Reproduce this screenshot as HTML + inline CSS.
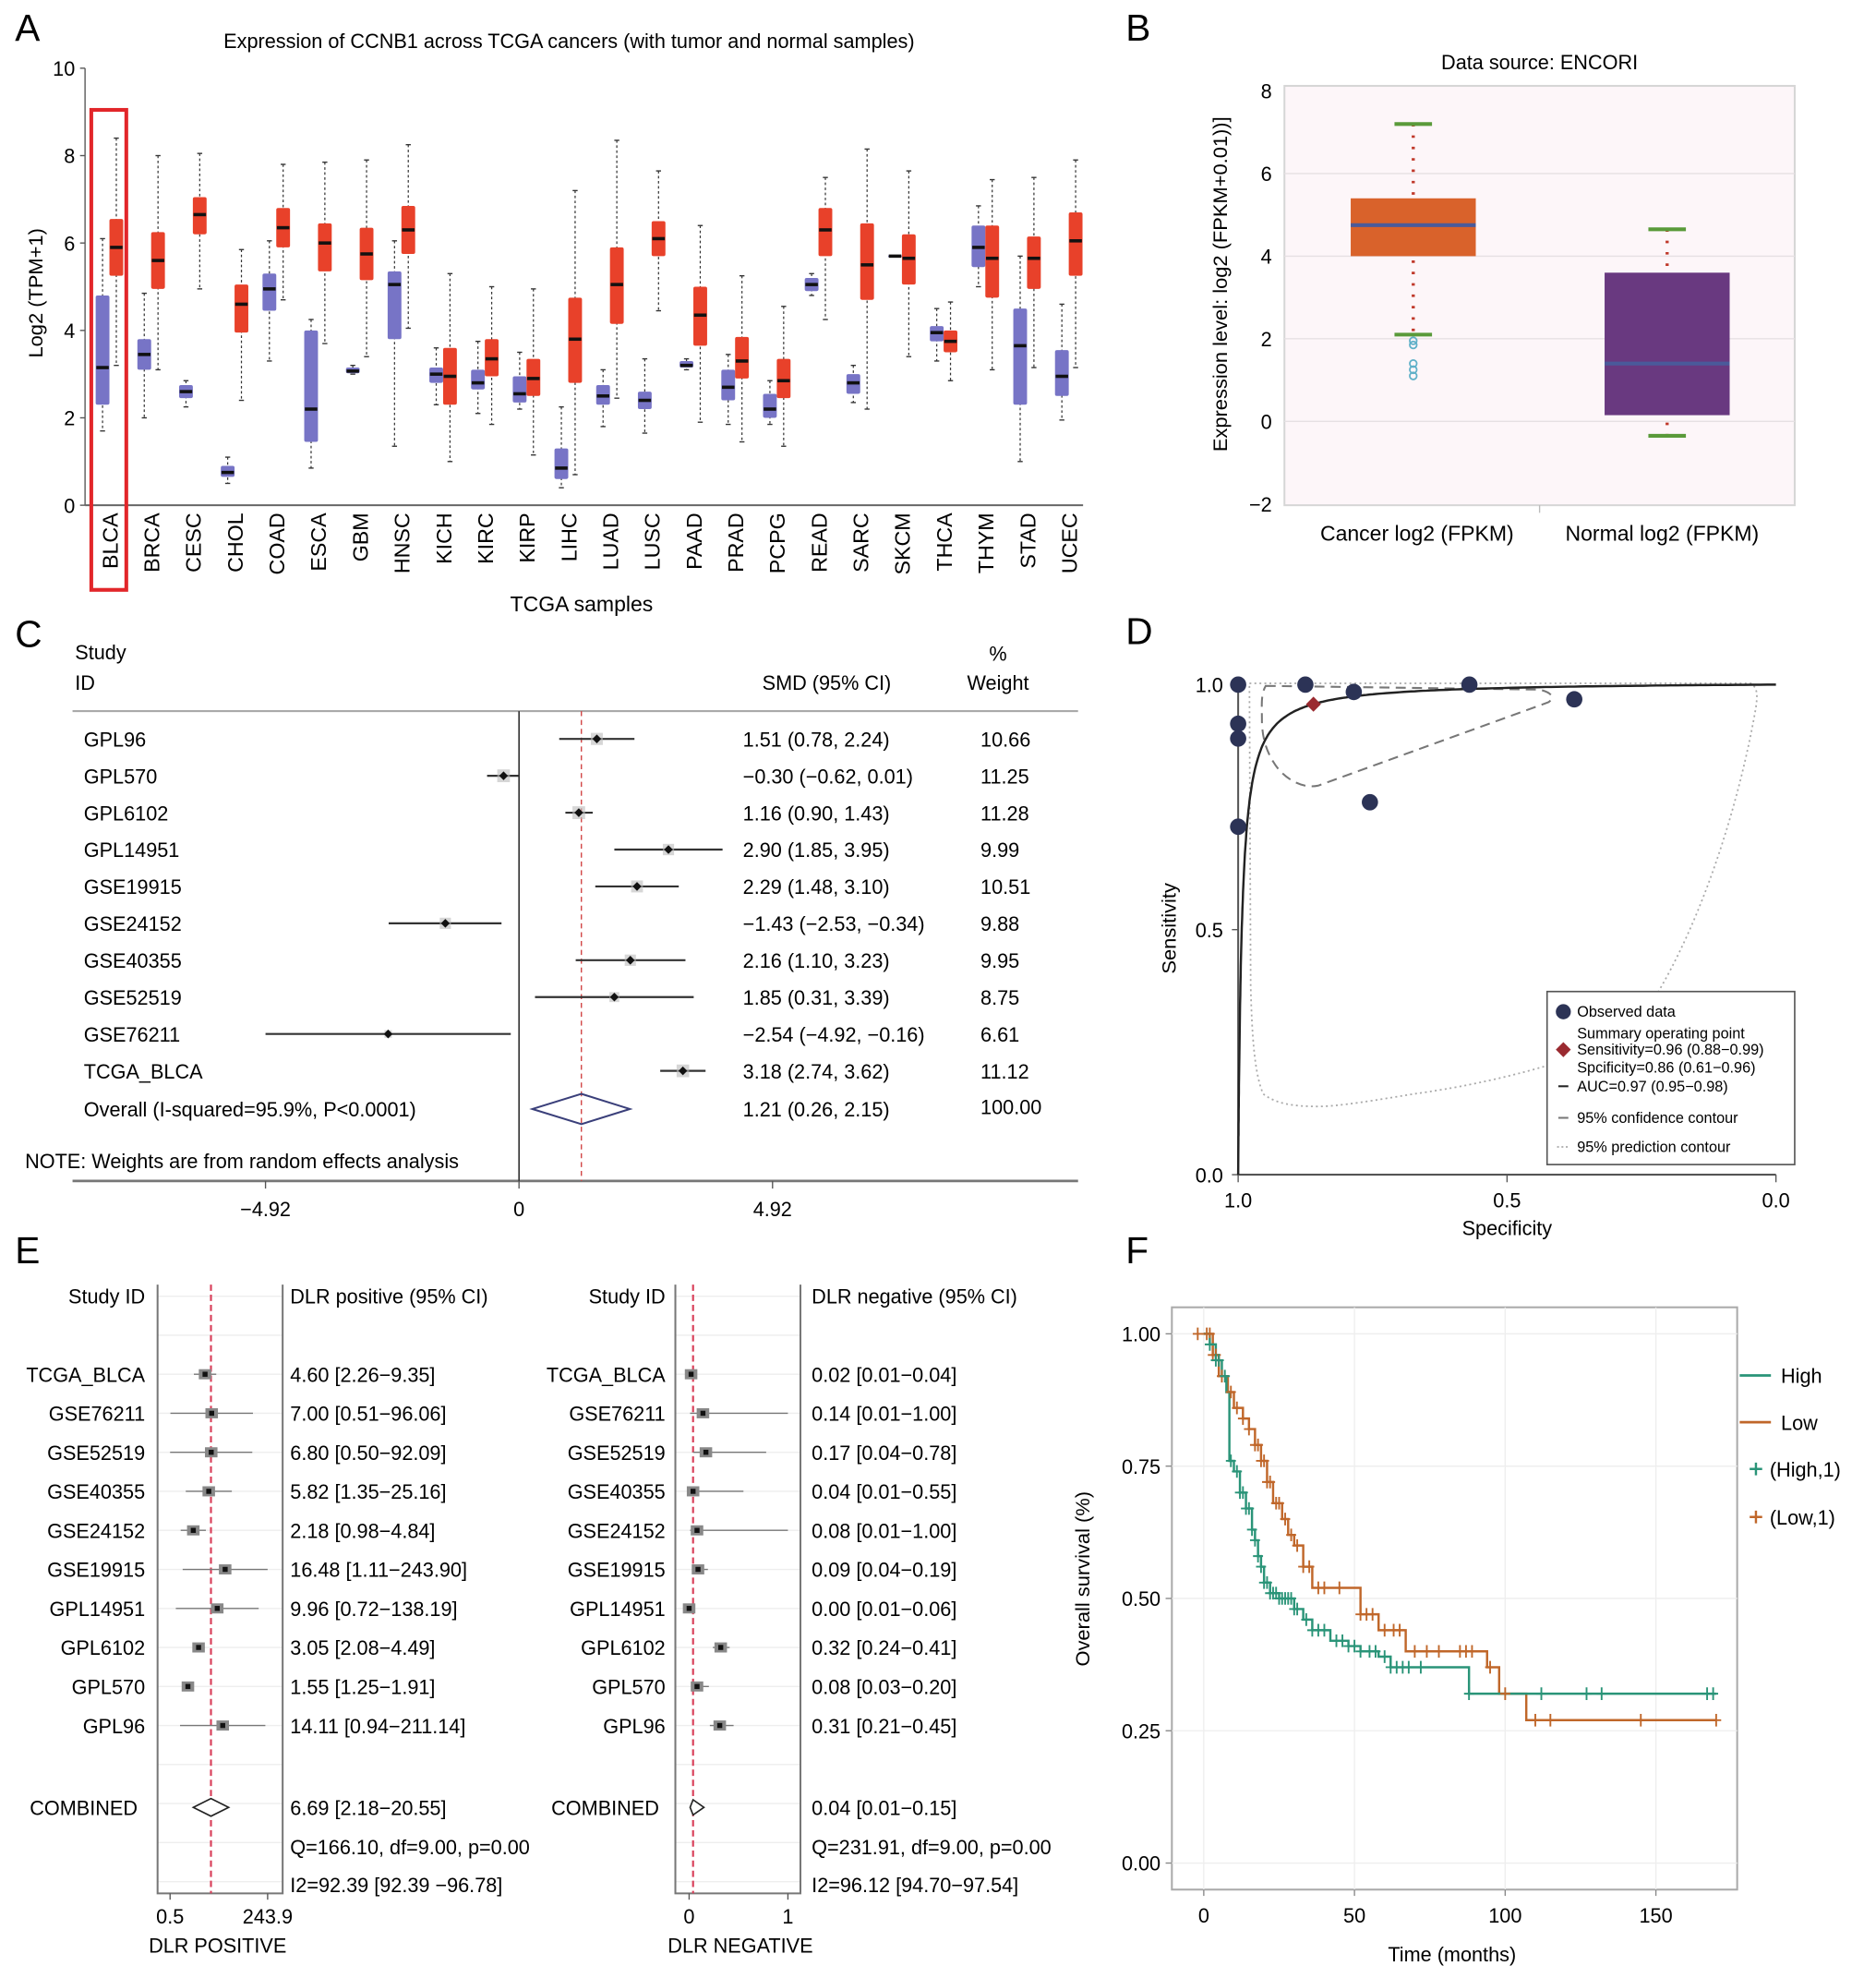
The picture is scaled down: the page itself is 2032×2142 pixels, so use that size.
<!DOCTYPE html>
<html><head><meta charset="utf-8"><style>
html,body{margin:0;padding:0;background:#fff;}
svg{display:block;font-family:"Liberation Sans",Arial,sans-serif;}
</style></head><body>
<svg id="fig" width="2032" height="2142" viewBox="0 0 1500 1566" preserveAspectRatio="none" xmlns="http://www.w3.org/2000/svg">
<rect x="0" y="0" width="1500" height="1566" fill="#fff"/>
<text x="12" y="32" font-size="30">A</text>
<text x="900" y="32" font-size="30">B</text>
<text x="12" y="512" font-size="30">C</text>
<text x="900" y="510" font-size="30">D</text>
<text x="12" y="1000" font-size="30">E</text>
<text x="900" y="1000" font-size="30">F</text>

<text x="455" y="38" font-size="16" text-anchor="middle">Expression of CCNB1 across TCGA cancers (with tumor and normal samples)</text>
<text transform="translate(34,232) rotate(-90)" font-size="16" text-anchor="middle">Log2 (TPM+1)</text>
<text x="465" y="484" font-size="17" text-anchor="middle">TCGA samples</text>
<g id="gA"></g>

<text x="1231" y="55" font-size="16" text-anchor="middle">Data source: ENCORI</text>
<text transform="translate(981,225) rotate(-90)" font-size="16" text-anchor="middle">Expression level: log2 (FPKM+0.01))]</text>
<text x="1133" y="428" font-size="17" text-anchor="middle">Cancer log2 (FPKM)</text>
<text x="1329" y="428" font-size="17" text-anchor="middle">Normal log2 (FPKM)</text>
<g id="gB"></g>

<text x="60" y="522" font-size="16">Study</text>
<text x="60" y="546" font-size="16">ID</text>
<text x="661" y="546" font-size="16" text-anchor="middle">SMD (95% CI)</text>
<text x="798" y="523" font-size="16" text-anchor="middle">%</text>
<text x="798" y="546" font-size="16" text-anchor="middle">Weight</text>
<text x="20" y="925" font-size="16">NOTE: Weights are from random effects analysis</text>
<g id="gC"></g>

<text transform="translate(940,735) rotate(-90)" font-size="16" text-anchor="middle">Sensitivity</text>
<text x="1205" y="978" font-size="16" text-anchor="middle">Specificity</text>
<g id="gD"></g>

<text x="116" y="1032" font-size="16" text-anchor="end">Study ID</text>
<text x="232" y="1032" font-size="16">DLR positive (95% CI)</text>
<text x="532" y="1032" font-size="16" text-anchor="end">Study ID</text>
<text x="649" y="1032" font-size="16">DLR negative (95% CI)</text>
<text x="232" y="1468" font-size="16">Q=166.10, df=9.00, p=0.00</text>
<text x="232" y="1498" font-size="16">I2=92.39 [92.39 −96.78]</text>
<text x="649" y="1468" font-size="16">Q=231.91, df=9.00, p=0.00</text>
<text x="649" y="1498" font-size="16">I2=96.12 [94.70−97.54]</text>
<text x="174" y="1546" font-size="16" text-anchor="middle">DLR POSITIVE</text>
<text x="592" y="1546" font-size="16" text-anchor="middle">DLR NEGATIVE</text>
<g id="gE"></g>

<text transform="translate(871,1250) rotate(-90)" font-size="16" text-anchor="middle">Overall survival (%)</text>
<text x="1161" y="1553" font-size="16" text-anchor="middle">Time (months)</text>
<text x="1361" y="1084" font-size="16" text-anchor="end">Log-rank p=0.031</text>
<text x="1361" y="1106" font-size="16" text-anchor="end">Low Num=203</text>
<text x="1361" y="1128" font-size="16" text-anchor="end">High Num=203</text>
<text x="1361" y="1152" font-size="16" text-anchor="end">Hazard ratio=1.39</text>
<g id="gF"></g>
</svg>
<script>
const aCats=["BLCA","BRCA","CESC","CHOL","COAD","ESCA","GBM","HNSC","KICH","KIRC","KIRP","LIHC","LUAD","LUSC","PAAD","PRAD","PCPG","READ","SARC","SKCM","THCA","THYM","STAD","UCEC"];
const aNormal=[[1.7,2.3,3.15,4.8,6.1],[2.0,3.1,3.45,3.8,4.85],[2.25,2.45,2.6,2.75,2.85],[0.5,0.65,0.75,0.9,1.1],[3.3,4.45,4.95,5.3,6.05],[0.85,1.45,2.2,4.0,4.25],[3.0,3.02,3.07,3.15,3.2],[1.35,3.8,5.05,5.35,6.05],[2.3,2.8,3.0,3.15,3.6],[2.1,2.65,2.8,3.1,3.75],[2.2,2.35,2.55,2.95,3.5],[0.4,0.6,0.85,1.3,2.25],[1.8,2.3,2.5,2.75,3.1],[1.65,2.2,2.4,2.6,3.35],[3.1,3.15,3.2,3.3,3.35],[1.85,2.4,2.7,3.1,3.45],[1.85,2.0,2.2,2.55,2.85],[4.8,4.9,5.05,5.2,5.3],[2.35,2.55,2.8,3.0,3.2],[5.7,5.68,5.7,5.72,5.7],[3.3,3.75,3.95,4.1,4.5],[5.0,5.45,5.9,6.4,6.85],[1.0,2.3,3.65,4.5,5.7],[1.95,2.5,2.95,3.55,4.6]];
const aTumor=[[3.2,5.25,5.9,6.55,8.4],[3.1,4.95,5.6,6.25,8.0],[4.95,6.2,6.65,7.05,8.05],[2.4,3.95,4.6,5.05,5.85],[4.7,5.9,6.35,6.8,7.8],[3.7,5.35,6.0,6.45,7.85],[3.4,5.15,5.75,6.35,7.9],[4.05,5.75,6.3,6.85,8.25],[1.0,2.3,2.95,3.6,5.3],[1.85,2.95,3.35,3.8,5.0],[1.15,2.5,2.9,3.35,4.95],[0.7,2.8,3.8,4.75,7.2],[2.45,4.15,5.05,5.9,8.35],[4.45,5.7,6.1,6.5,7.65],[1.9,3.65,4.35,5.0,6.4],[1.45,2.9,3.3,3.85,5.25],[1.35,2.45,2.85,3.35,4.55],[4.25,5.7,6.3,6.8,7.5],[2.2,4.7,5.5,6.45,8.15],[3.4,5.05,5.65,6.2,7.65],[2.85,3.5,3.75,4.0,4.65],[3.1,4.75,5.65,6.4,7.45],[3.15,4.95,5.65,6.15,7.5],[3.15,5.25,6.05,6.7,7.9]];
const aTicks=[0,2,4,6,8,10];
const bGroups=["Cancer","Normal"];
const bStats=[[2.1,4.0,4.75,5.4,7.2],[-0.35,0.15,1.4,3.6,4.65]];
const bOutliers=[1.95,1.85,1.4,1.25,1.1];
const bTicks=[-2,0,2,4,6,8];
const cStudies=["GPL96","GPL570","GPL6102","GPL14951","GSE19915","GSE24152","GSE40355","GSE52519","GSE76211","TCGA_BLCA"];
const cSMD=[1.51,-0.30,1.16,2.90,2.29,-1.43,2.16,1.85,-2.54,3.18];
const cLo=[0.78,-0.62,0.90,1.85,1.48,-2.53,1.10,0.31,-4.92,2.74];
const cHi=[2.24,0.01,1.43,3.95,3.10,-0.34,3.23,3.39,-0.16,3.62];
const cWeight=["10.66","11.25","11.28","9.99","10.51","9.88","9.95","8.75","6.61","11.12"];
const cOverall=[1.21,0.26,2.15];
const cTicks=[-4.92,0,4.92];
const dSpec=[1.0,1.0,1.0,1.0,0.875,0.785,0.57,0.755,0.375];
const dSens=[1.0,0.92,0.89,0.71,1.0,0.985,1.0,0.76,0.97];
const dSummary=[0.86,0.96];
const dSrocD=5.0;
const dTicks=[0,0.5,1.0];
const eStudies=["TCGA_BLCA","GSE76211","GSE52519","GSE40355","GSE24152","GSE19915","GPL14951","GPL6102","GPL570","GPL96"];
const ePos=[4.60,7.00,6.80,5.82,2.18,16.48,9.96,3.05,1.55,14.11];
const ePosLo=[2.26,0.51,0.50,1.35,0.98,1.11,0.72,2.08,1.25,0.94];
const ePosHi=[9.35,96.06,92.09,25.16,4.84,243.90,138.19,4.49,1.91,211.14];
const eNeg=[0.02,0.14,0.17,0.04,0.08,0.09,0.00,0.32,0.08,0.31];
const eNegLo=[0.01,0.01,0.04,0.01,0.01,0.04,0.01,0.24,0.03,0.21];
const eNegHi=[0.04,1.00,0.78,0.55,1.00,0.19,0.06,0.41,0.20,0.45];
const ePosComb=[6.69,2.18,20.55];
const eNegComb=[0.04,0.01,0.15];
const fHighT=[0,2,4,6,7.5,8.5,10,12,14,16,17,18,19,20,22,25,30,33,36,42,48,52,58,62,88,170];
const fHighS=[1,0.98,0.95,0.92,0.89,0.76,0.74,0.70,0.67,0.63,0.61,0.58,0.56,0.53,0.51,0.50,0.48,0.46,0.44,0.42,0.41,0.40,0.39,0.37,0.32,0.32];
const fLowT=[0,3,5,8,10,13,15,17,19,21,23,26,28,30,33,36,47,52,58,67,94,98,107,170];
const fLowS=[1,0.96,0.92,0.89,0.86,0.84,0.82,0.79,0.76,0.72,0.68,0.65,0.62,0.60,0.56,0.52,0.52,0.47,0.44,0.40,0.37,0.32,0.27,0.27];
const fHighCens=[2,4,5,7,9,11,12,13,14,15,16,17,18,19,20,21,22,23,24,25,26,27,28,29,30,31,34,36,38,40,44,46,48,50,52,55,57,60,62,64,66,68,72,88,112,127,132,167,169];
const fLowCens=[-2,1,2,3,4,6,9,11,13,15,17,18,19,20,21,22,24,25,27,29,31,33,35,38,40,45,52,54,56,60,63,65,70,74,78,85,87,89,95,100,110,115,145,170];
const fTicksY=[0,0.25,0.5,0.75,1.0];
const fTicksX=[0,50,100,150];

const NS="http://www.w3.org/2000/svg";
function mk(tag,attrs,parent){const e=document.createElementNS(NS,tag);for(const k in attrs)e.setAttribute(k,attrs[k]);parent.appendChild(e);return e;}
function txt(s,attrs,parent){const e=mk("text",attrs,parent);e.textContent=s;return e;}

(function(){
const g=document.getElementById("gA");
const yA=v=>400-v*34.6, xA=i=>88+i*33.35;
let e=mk("line",{x1:68,y1:54,x2:68,y2:400,stroke:"#555","stroke-width":1},g);


e=mk("line",{x1:68,y1:400,x2:866,y2:400,stroke:"#666","stroke-width":1.5},g);


aTicks.forEach(t=>{
 mk("line",{x1:64,y1:yA(t),x2:68,y2:yA(t),stroke:"#555"},g);
 const l=txt(String(t),{x:60,y:yA(t)+6,"font-size":16,"text-anchor":"end"},g);
 
 
});
function box(s,cx,fill,name){
 const gg=mk("g",{},g);
 
 
 mk("line",{x1:cx,y1:yA(s[4]),x2:cx,y2:yA(s[0]),stroke:"#333","stroke-width":0.9,"stroke-dasharray":"2,2"},gg);
 mk("line",{x1:cx-2,y1:yA(s[4]),x2:cx+2,y2:yA(s[4]),stroke:"#333","stroke-width":1},gg);
 mk("line",{x1:cx-2,y1:yA(s[0]),x2:cx+2,y2:yA(s[0]),stroke:"#333","stroke-width":1},gg);
 const h=Math.max(yA(s[1])-yA(s[3]),1.5);
 mk("rect",{x:cx-5.5,y:yA(s[3]),width:11,height:h,fill:fill,rx:1.5},gg);
 mk("line",{x1:cx-5,y1:yA(s[2]),x2:cx+5,y2:yA(s[2]),stroke:"#111","stroke-width":2.6},gg);
}
aCats.forEach((c,i)=>{
 const cx=xA(i);
 box(aNormal[i],cx-6,"#7774c6","normal-box-"+c.toLowerCase());
 box(aTumor[i],cx+5,"#e8412a","tumor-box-"+c.toLowerCase());
 const l=txt(c,{transform:"translate("+(cx+6)+",406) rotate(-90)","font-size":17,"text-anchor":"end"},g);
 
 
});
e=mk("rect",{x:73,y:87,width:28,height:380,fill:"none",stroke:"#e2262a","stroke-width":3},g);


})();

(function(){
const g=document.getElementById("gB");
const yB=v=>72+(8-v)*32.7;
const xB=[1130,1333];
let e=mk("rect",{x:1027,y:68,width:408,height:332,fill:"#fdf6f9",stroke:"#d6d6d6","stroke-width":1.5},g);


bTicks.forEach(t=>{
 if(t>-2&&t<8) mk("line",{x1:1027,y1:yB(t),x2:1435,y2:yB(t),stroke:"#e6e0e3","stroke-width":1},g);
 const l=txt(String(t).replace("-","−"),{x:1017,y:yB(t)+6,"font-size":16,"text-anchor":"end"},g);
 
 
});
mk("line",{x1:1231,y1:400,x2:1231,y2:406,stroke:"#bbb"},g);
const fills=["#d9622b","#693980"];
bGroups.forEach((n,i)=>{
 const s=bStats[i],cx=xB[i];
 const gg=mk("g",{},g);
 
 
 mk("line",{x1:cx,y1:yB(s[4]),x2:cx,y2:yB(s[0]),stroke:"#c0392b","stroke-width":2.5,"stroke-dasharray":"2,7"},gg);
 mk("rect",{x:cx-50,y:yB(s[3]),width:100,height:yB(s[1])-yB(s[3]),fill:fills[i]},gg);
 mk("line",{x1:cx-50,y1:yB(s[2]),x2:cx+50,y2:yB(s[2]),stroke:"#4a5a9a","stroke-width":3},gg);
 mk("line",{x1:cx-15,y1:yB(s[4]),x2:cx+15,y2:yB(s[4]),stroke:"#5a9a3a","stroke-width":3},gg);
 mk("line",{x1:cx-15,y1:yB(s[0]),x2:cx+15,y2:yB(s[0]),stroke:"#5a9a3a","stroke-width":3},gg);
});
bOutliers.forEach(v=>{
 const c=mk("circle",{cx:xB[0],cy:yB(v),r:2.8,fill:"none",stroke:"#5fb0c8","stroke-width":1.3},g);
 
 
});
})();

(function(){
const g=document.getElementById("gC");
const xC=v=>415+v*41.2, yC=i=>585+i*29.2;
mk("line",{x1:58,y1:563,x2:862,y2:563,stroke:"#aaa","stroke-width":1.5},g);
let e=mk("line",{x1:58,y1:935,x2:862,y2:935,stroke:"#777","stroke-width":2},g);


mk("line",{x1:xC(0),y1:563,x2:xC(0),y2:935,stroke:"#333","stroke-width":1.2},g);
e=mk("line",{x1:xC(cOverall[0]),y1:563,x2:xC(cOverall[0]),y2:935,stroke:"#d04040","stroke-width":1,"stroke-dasharray":"4,3"},g);


cTicks.forEach(t=>{
 mk("line",{x1:xC(t),y1:935,x2:xC(t),y2:941,stroke:"#555"},g);
 const l=txt(String(t).replace("-","−"),{x:xC(t),y:963,"font-size":16,"text-anchor":"middle"},g);
 
 
});
const fmt=v=>v.toFixed(2).replace("-","−");
cStudies.forEach((s,i)=>{
 const y=yC(i);
 let l=txt(s,{x:67,y:y+6,"font-size":16},g);
 
 
 const gg=mk("g",{},g);
 
 
 mk("line",{x1:xC(cLo[i]),y1:y,x2:xC(cHi[i]),y2:y,stroke:"#333","stroke-width":1.6},gg);
 const w=parseFloat(cWeight[i])*0.9;
 mk("rect",{x:xC(cSMD[i])-w/2,y:y-w/2,width:w,height:w,fill:"#bbb",opacity:0.6},gg);
 mk("path",{d:`M${xC(cSMD[i])-3.5},${y}L${xC(cSMD[i])},${y-3.5}L${xC(cSMD[i])+3.5},${y}L${xC(cSMD[i])},${y+3.5}Z`,fill:"#111"},gg);
 l=txt(fmt(cSMD[i])+" ("+fmt(cLo[i])+", "+fmt(cHi[i])+")",{x:594,y:y+6,"font-size":16},g);
 
 
 l=txt(cWeight[i],{x:784,y:y+6,"font-size":16},g);
 
 
});
const yo=yC(10)+1;
let l=txt("Overall  (I-squared=95.9%, P<0.0001)",{x:67,y:yo+6,"font-size":16},g);


e=mk("path",{d:`M${xC(cOverall[1])},${yo}L${xC(cOverall[0])},${yo-12}L${xC(cOverall[2])},${yo}L${xC(cOverall[0])},${yo+12}Z`,fill:"none",stroke:"#3a3f7a","stroke-width":1.5},g);


l=txt(fmt(cOverall[0])+" ("+fmt(cOverall[1])+", "+fmt(cOverall[2])+")",{x:594,y:yo+6,"font-size":16},g);


l=txt("100.00",{x:784,y:yo+4,"font-size":16},g);


})();

(function(){
const g=document.getElementById("gD");
const xD=s=>990+(1-s)*430, yD=v=>930-v*388;
let e=mk("path",{d:"M990,542V930H1420",fill:"none",stroke:"#555","stroke-width":1.5},g);


dTicks.forEach(t=>{
 mk("line",{x1:985,y1:yD(t),x2:990,y2:yD(t),stroke:"#555"},g);
 let l=txt(t.toFixed(1),{x:978,y:yD(t)+6,"font-size":16,"text-anchor":"end"},g);
 
 
 mk("line",{x1:xD(t),y1:930,x2:xD(t),y2:936,stroke:"#555"},g);
 l=txt(t.toFixed(1),{x:xD(t),y:956,"font-size":16,"text-anchor":"middle"},g);
 
 
});
e=mk("path",{d:"M999,541L1400,541C1406,545 1405,552 1404,560C1390,640 1360,730 1323,790C1300,815 1270,835 1246,841C1200,855 1160,862 1131,866C1100,871 1070,876 1054,876C1035,876 1020,874 1010,866C1003,850 1001,820 1000,780L999,541Z",fill:"none",stroke:"#aaa","stroke-width":1.3,"stroke-dasharray":"1.5,2.5"},g);


e=mk("path",{d:"M1012,543L1231,546C1240,548 1244,552 1238,556L1054,622C1040,625 1025,615 1018,603C1011,592 1009,580 1009,570C1009,558 1008,550 1012,543Z",fill:"none",stroke:"#777","stroke-width":1.5,"stroke-dasharray":"8,5"},g);


let pts=[];
for(let k=0;k<=200;k++){
 const fp=Math.pow(k/200,3)*0.999+0.0005;
 const lg=dSrocD+Math.log(fp/(1-fp));
 const se=1/(1+Math.exp(-lg));
 pts.push(xD(1-fp).toFixed(1)+","+yD(se).toFixed(1));
}
pts.unshift(xD(1)+","+yD(0));
pts.push(xD(0)+","+yD(1));
e=mk("polyline",{points:pts.join(" "),fill:"none",stroke:"#222","stroke-width":1.8},g);


dSpec.forEach((s,i)=>{
 const c=mk("circle",{cx:xD(s),cy:yD(dSens[i]),r:6.5,fill:"#2c3356"},g);
 
 
});
const sx=xD(dSummary[0]),sy=yD(dSummary[1]);
e=mk("path",{d:`M${sx-6},${sy}L${sx},${sy-6}L${sx+6},${sy}L${sx},${sy+6}Z`,fill:"#9a2a30"},g);


const lg=mk("g",{},g);


mk("rect",{x:1237,y:785,width:198,height:137,fill:"#fff",stroke:"#555","stroke-width":1.2},lg);
mk("circle",{cx:1250,cy:801,r:6,fill:"#2c3356"},lg);
mk("path",{d:"M1244,831L1250,825L1256,831L1250,837Z",fill:"#9a2a30"},lg);
mk("line",{x1:1246,y1:860,x2:1254,y2:860,stroke:"#222","stroke-width":1.5},lg);
mk("line",{x1:1246,y1:885,x2:1254,y2:885,stroke:"#777","stroke-width":1.5},lg);
mk("line",{x1:1245,y1:908,x2:1255,y2:908,stroke:"#aaa","stroke-width":1.3,"stroke-dasharray":"1.5,2"},lg);
[["Observed data",805],["Summary operating point",822],["Sensitivity=0.96 (0.88−0.99)",835],["Spcificity=0.86 (0.61−0.96)",849],["AUC=0.97 (0.95−0.98)",864],["95% confidence contour",889],["95% prediction contour",912]].forEach(r=>{
 const l=txt(r[0],{x:1261,y:r[1],"font-size":12},lg);
 
 
});
})();

(function(){
const g=document.getElementById("gE");
const yE=i=>1088+i*30.9;
const xEP=v=>136+(Math.log(v)-Math.log(0.5))*12.6;
const xEN=v=>551+v*79;
function frame(x0,x1,name){
 const gg=mk("g",{},g);
 
 
 for(let k=-2;k<=13;k++){ const y=yE(k); if(y>1020) mk("line",{x1:x0,y1:y,x2:x1,y2:y,stroke:"#eee","stroke-width":1},gg);}
 mk("path",{d:`M${x0},1017V1499H${x1}V1017`,fill:"none",stroke:"#777","stroke-width":1.5},gg);
}
frame(126,226,'panel-e-left-frame');
frame(540,640,'panel-e-right-frame');
let e=mk("line",{x1:xEP(ePosComb[0]),y1:1017,x2:xEP(ePosComb[0]),y2:1499,stroke:"#d9405a","stroke-width":1.6,"stroke-dasharray":"5,3"},g);


e=mk("line",{x1:xEN(eNegComb[0]),y1:1017,x2:xEN(eNegComb[0]),y2:1499,stroke:"#d9405a","stroke-width":1.6,"stroke-dasharray":"5,3"},g);


[[0.5,"0.5"],[243.9,"243.9"]].forEach(t=>{
 mk("line",{x1:xEP(t[0]),y1:1499,x2:xEP(t[0]),y2:1504,stroke:"#555"},g);
 const l=txt(t[1],{x:xEP(t[0]),y:1523,"font-size":16,"text-anchor":"middle"},g);
 
 
});
[0,1].forEach(t=>{
 mk("line",{x1:xEN(t),y1:1499,x2:xEN(t),y2:1504,stroke:"#555"},g);
 const l=txt(String(t),{x:xEN(t),y:1523,"font-size":16,"text-anchor":"middle"},g);
 
 
});
const f=v=>v.toFixed(2);
eStudies.forEach((s,i)=>{
 const y=yE(i);
 let l=txt(s,{x:116,y:y+6,"font-size":16,"text-anchor":"end"},g);
 
 
 l=txt(s,{x:532,y:y+6,"font-size":16,"text-anchor":"end"},g);
 
 
 let gg=mk("g",{},g);
 
 
 mk("line",{x1:xEP(ePosLo[i]),y1:y,x2:xEP(ePosHi[i]),y2:y,stroke:"#777","stroke-width":1},gg);
 mk("rect",{x:xEP(ePos[i])-5,y:y-4,width:10,height:8,fill:"#888"},gg);
 mk("rect",{x:xEP(ePos[i])-2,y:y-2,width:4,height:4,fill:"#111"},gg);
 gg=mk("g",{},g);
 
 
 mk("line",{x1:xEN(eNegLo[i]),y1:y,x2:xEN(eNegHi[i]),y2:y,stroke:"#777","stroke-width":1},gg);
 mk("rect",{x:xEN(eNeg[i])-5,y:y-4,width:10,height:8,fill:"#888"},gg);
 mk("rect",{x:xEN(eNeg[i])-2,y:y-2,width:4,height:4,fill:"#111"},gg);
 l=txt(f(ePos[i])+" ["+f(ePosLo[i])+"−"+f(ePosHi[i])+"]",{x:232,y:y+6,"font-size":16},g);
 
 
 l=txt(f(eNeg[i])+" ["+f(eNegLo[i])+"−"+f(eNegHi[i])+"]",{x:649,y:y+6,"font-size":16},g);
 
 
});
const yc=yE(11)+3;
let l=txt("COMBINED",{x:110,y:yc+6,"font-size":16,"text-anchor":"end"},g);


l=txt("COMBINED",{x:527,y:yc+6,"font-size":16,"text-anchor":"end"},g);


e=mk("path",{d:`M${xEP(ePosComb[1])},${yc}L${xEP(ePosComb[0])},${yc-7}L${xEP(ePosComb[2])},${yc}L${xEP(ePosComb[0])},${yc+7}Z`,fill:"#fff",stroke:"#222","stroke-width":1.2},g);


e=mk("path",{d:`M${xEN(eNegComb[1])},${yc}L${xEN(eNegComb[0])},${yc-6}L${xEN(eNegComb[2])},${yc}L${xEN(eNegComb[0])},${yc+6}Z`,fill:"#fff",stroke:"#222","stroke-width":1.2},g);


l=txt(f(ePosComb[0])+" ["+f(ePosComb[1])+"−"+f(ePosComb[2])+"]",{x:232,y:yc+6,"font-size":16},g);


l=txt(f(eNegComb[0])+" ["+f(eNegComb[1])+"−"+f(eNegComb[2])+"]",{x:649,y:yc+6,"font-size":16},g);


})();

(function(){
const g=document.getElementById("gF");
const xF=t=>962.5+t*2.41, yF=s=>1475-s*419;
let e=mk("rect",{x:937,y:1035,width:452,height:461,fill:"#fff",stroke:"#aaa","stroke-width":1.5},g);


fTicksY.forEach(t=>{
 mk("line",{x1:937,y1:yF(t),x2:1389,y2:yF(t),stroke:"#eee","stroke-width":1},g);
 mk("line",{x1:932,y1:yF(t),x2:937,y2:yF(t),stroke:"#888"},g);
 const l=txt(t.toFixed(2),{x:928,y:yF(t)+6,"font-size":16,"text-anchor":"end"},g);
 
 
});
fTicksX.forEach(t=>{
 mk("line",{x1:xF(t),y1:1035,x2:xF(t),y2:1496,stroke:"#eee","stroke-width":1},g);
 mk("line",{x1:xF(t),y1:1496,x2:xF(t),y2:1501,stroke:"#888"},g);
 const l=txt(String(t),{x:xF(t),y:1522,"font-size":16,"text-anchor":"middle"},g);
 
 
});
function stepPath(T,S){let d=`M${xF(T[0])},${yF(S[0])}`;for(let k=1;k<T.length;k++){d+=`H${xF(T[k])}V${yF(S[k])}`;}return d;}
function sAt(T,S,t){let s=S[0];for(let k=0;k<T.length;k++){if(T[k]<=t)s=S[k];}return s;}
const cols={high:"#2a9478",low:"#c0672a"};
let p=mk("path",{d:stepPath(fLowT,fLowS),fill:"none",stroke:cols.low,"stroke-width":1.8},g);


p=mk("path",{d:stepPath(fHighT,fHighS),fill:"none",stroke:cols.high,"stroke-width":1.8},g);


function cens(list,T,S,col,name){
 list.forEach(t=>{
  const x=xF(t),y=yF(sAt(T,S,Math.max(t,0)));
  const c=mk("path",{d:`M${x-4},${y}H${x+4}M${x},${y-5}V${y+5}`,stroke:col,"stroke-width":1.4},g);
  
  
 });
}
cens(fLowCens,fLowT,fLowS,cols.low,'censor-mark-low');
cens(fHighCens,fHighT,fHighS,cols.high,'censor-mark-high');
const lg=mk("g",{},g);


mk("line",{x1:1391,y1:1089,x2:1416,y2:1089,stroke:cols.high,"stroke-width":2},lg);
mk("line",{x1:1391,y1:1126,x2:1416,y2:1126,stroke:cols.low,"stroke-width":2},lg);
mk("path",{d:"M1399,1163H1409M1404,1158V1168",stroke:cols.high,"stroke-width":1.8},lg);
mk("path",{d:"M1399,1201H1409M1404,1196V1206",stroke:cols.low,"stroke-width":1.8},lg);
[["High",1424,1095],["Low",1424,1132],["(High,1)",1415,1169],["(Low,1)",1415,1207]].forEach(r=>{
 const l=txt(r[0],{x:r[1],y:r[2],"font-size":16},lg);
 
 
});
})();
</script>
</body></html>
